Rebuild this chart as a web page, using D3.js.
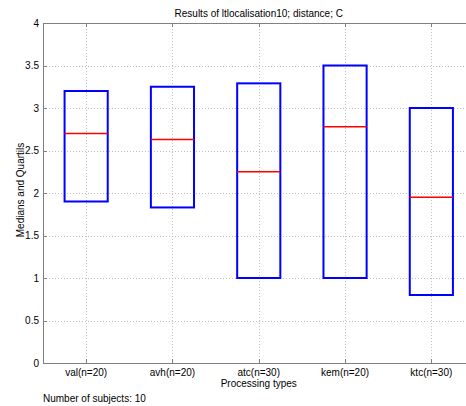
<!DOCTYPE html>
<html>
<head>
<meta charset="utf-8">
<script src="https://cdn.jsdelivr.net/npm/d3@7"></script>
<style>
  body { margin: 0; background: #fff; }
  svg { display: block; font-family: "Liberation Sans", Arial, sans-serif; }
</style>
</head>
<body>
<script>
// chart data
const categories = ["val(n=20)", "avh(n=20)", "atc(n=30)", "kem(n=20)", "ktc(n=30)"];
const q1 = [1.9, 1.83, 1.0, 1.0, 0.8];
const medians = [2.7, 2.63, 2.25, 2.78, 1.95];
const q3 = [3.2, 3.25, 3.29, 3.5, 3.0];
const yTicks = [0, 0.5, 1, 1.5, 2, 2.5, 3, 3.5, 4];

const width = 466, height = 406;
const mLeft = 43, mTop = 23, mBottom = 363;
const fontSize = "10px";

const svg = d3.select("body").append("svg")
    .attr("width", width)
    .attr("height", height);

// x axis runs 0.5 .. 5.5 like matlab boxplot (right edge is past the window)
const x = d3.scaleLinear().domain([0.5, 5.5]).range([mLeft, 474.5]);
const y = d3.scaleLinear().domain([0, 4]).range([mBottom, mTop]);

const boxes = categories.map((c, i) => ({ name: c, pos: i + 1, q1: q1[i], med: medians[i], q3: q3[i] }));

// grid
const grid = svg.append("g")
    .attr("stroke", "#c0c0c0")
    .attr("stroke-width", 1)
    .attr("stroke-dasharray", "1,2");
grid.selectAll("line.h")
    .data(yTicks.slice(1, -1))
    .join("line")
    .attr("class", "h")
    .attr("x1", mLeft).attr("x2", width)
    .attr("y1", d => Math.round(y(d)) + 0.5)
    .attr("y2", d => Math.round(y(d)) + 0.5);
grid.selectAll("line.v")
    .data(boxes)
    .join("line")
    .attr("class", "v")
    .attr("x1", d => Math.round(x(d.pos)) + 0.5)
    .attr("x2", d => Math.round(x(d.pos)) + 0.5)
    .attr("y1", mTop).attr("y2", mBottom);

// frame
const frame = svg.append("g").attr("stroke", "#808080").attr("stroke-width", 1).attr("fill", "none");
frame.append("line").attr("x1", mLeft + 0.5).attr("x2", mLeft + 0.5).attr("y1", mTop).attr("y2", mBottom + 0.5);
frame.append("line").attr("x1", mLeft).attr("x2", width).attr("y1", mBottom + 0.5).attr("y2", mBottom + 0.5);
frame.append("line").attr("x1", mLeft).attr("x2", width).attr("y1", mTop + 0.5).attr("y2", mTop + 0.5);

// tick marks
frame.selectAll("line.yt")
    .data(yTicks)
    .join("line")
    .attr("class", "yt")
    .attr("x1", mLeft).attr("x2", mLeft + 4)
    .attr("y1", d => Math.round(y(d)) + 0.5)
    .attr("y2", d => Math.round(y(d)) + 0.5);
frame.selectAll("line.xb")
    .data(boxes)
    .join("line")
    .attr("class", "xb")
    .attr("x1", d => Math.round(x(d.pos)) + 0.5)
    .attr("x2", d => Math.round(x(d.pos)) + 0.5)
    .attr("y1", mBottom).attr("y2", mBottom - 4);
frame.selectAll("line.xt")
    .data(boxes)
    .join("line")
    .attr("class", "xt")
    .attr("x1", d => Math.round(x(d.pos)) + 0.5)
    .attr("x2", d => Math.round(x(d.pos)) + 0.5)
    .attr("y1", mTop).attr("y2", mTop + 4);

// boxes
const bw = 0.25;
svg.append("g")
    .selectAll("rect")
    .data(boxes)
    .join("rect")
    .attr("x", d => x(d.pos - bw))
    .attr("width", d => x(d.pos + bw) - x(d.pos - bw))
    .attr("y", d => y(d.q3))
    .attr("height", d => y(d.q1) - y(d.q3))
    .attr("fill", "none")
    .attr("stroke", "#0000ff")
    .attr("stroke-width", 2);

svg.append("g")
    .selectAll("line")
    .data(boxes)
    .join("line")
    .attr("x1", d => x(d.pos - bw))
    .attr("x2", d => x(d.pos + bw))
    .attr("y1", d => y(d.med))
    .attr("y2", d => y(d.med))
    .attr("stroke", "#ff0000")
    .attr("stroke-width", 1.6);

// tick labels
svg.append("g")
    .selectAll("text")
    .data(yTicks)
    .join("text")
    .attr("x", mLeft - 4)
    .attr("y", d => y(d))
    .attr("dy", "0.35em")
    .attr("text-anchor", "end")
    .style("font-size", fontSize)
    .text(d => d);

svg.append("g")
    .selectAll("text")
    .data(boxes)
    .join("text")
    .attr("x", d => x(d.pos))
    .attr("y", 376)
    .attr("text-anchor", "middle")
    .style("font-size", fontSize)
    .text(d => d.name);

// titles
svg.append("text")
    .attr("x", (x(0.5) + x(5.5)) / 2)
    .attr("y", 17)
    .attr("text-anchor", "middle")
    .style("font-size", fontSize)
    .text("Results of ltlocalisation10; distance; C");

svg.append("text")
    .attr("x", (x(0.5) + x(5.5)) / 2)
    .attr("y", 387)
    .attr("text-anchor", "middle")
    .style("font-size", fontSize)
    .text("Processing types");

svg.append("text")
    .attr("transform", "translate(24,190) rotate(-90)")
    .attr("text-anchor", "middle")
    .style("font-size", fontSize)
    .text("Medians and Quartils");

svg.append("text")
    .attr("x", 43)
    .attr("y", 402)
    .style("font-size", fontSize)
    .text("Number of subjects: 10");
</script>
</body>
</html>
